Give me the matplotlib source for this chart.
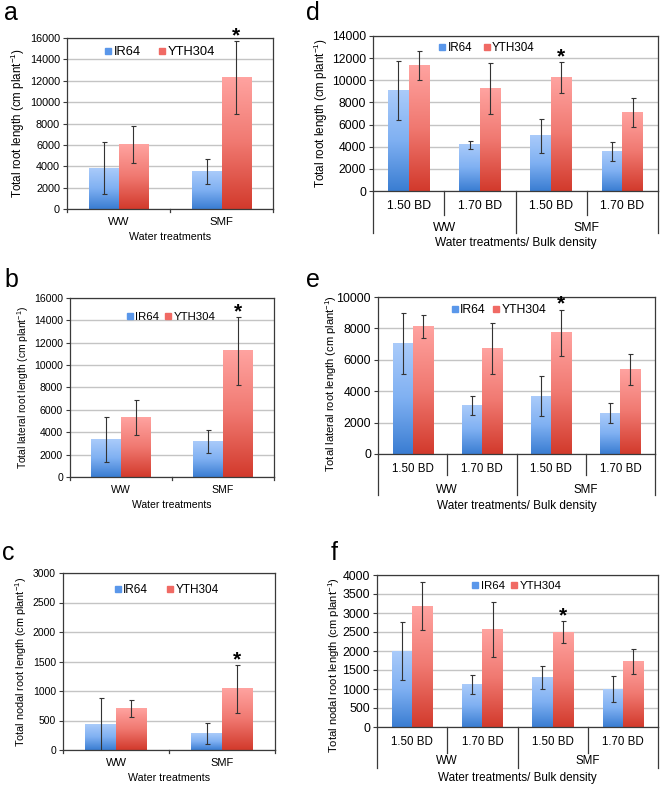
import matplotlib
matplotlib.use('Agg')
import matplotlib.pyplot as plt
import numpy as np
from matplotlib.colors import LinearSegmentedColormap
from matplotlib.lines import Line2D
from matplotlib.transforms import offset_copy

plt.rcParams['font.family'] = ['Liberation Sans', 'DejaVu Sans']
plt.rcParams['mathtext.default'] = 'regular'

# Data (cm plant^-1)
water_cats = ['WW', 'SMF']
bd_cats = ['1.50 BD', '1.70 BD', '1.50 BD', '1.70 BD']
water_groups = ['WW', 'SMF']

a_ir64 = [3800, 3500]
a_ir64_err = [2430, 1180]
a_yth = [6050, 12300]
a_yth_err = [1730, 3400]

b_ir64 = [3320, 3170]
b_ir64_err = [2000, 1040]
b_yth = [5280, 11280]
b_yth_err = [1560, 3030]

c_ir64 = [430, 280]
c_ir64_err = [455, 183]
c_yth = [705, 1035]
c_yth_err = [145, 406]

d_ir64 = [9060, 4160, 4970, 3580]
d_ir64_err = [2640, 400, 1530, 850]
d_yth = [11320, 9250, 10240, 7080]
d_yth_err = [1320, 2300, 1420, 1330]

e_ir64 = [7050, 3070, 3690, 2610]
e_ir64_err = [1940, 610, 1280, 640]
e_yth = [8110, 6720, 7730, 5400]
e_yth_err = [720, 1600, 1460, 1000]

f_ir64 = [2000, 1110, 1300, 1000]
f_ir64_err = [760, 250, 300, 335]
f_yth = [3180, 2560, 2500, 1725]
f_yth_err = [630, 720, 280, 325]

W, H = 660, 789
fig = plt.figure(figsize=(W / 100, H / 100), dpi=100)

blue_cmap = LinearSegmentedColormap.from_list('b', ['#3a7dd2', '#7fb0f2', '#aacbfa'])
red_cmap = LinearSegmentedColormap.from_list('r', ['#d23a2c', '#f07870', '#ffa3a0'])
grad = np.linspace(0, 1, 128).reshape(-1, 1)
BW = 0.29


def px_axes(l, r, t, b):
    return fig.add_axes([l / W, 1 - b / H, (r - l) / W, (b - t) / H])


def bars(ax, ir, ir_err, yt, yt_err, ymax, ystep, star, tsize):
    n = len(ir)
    x = np.arange(n)
    for i in range(n):
        ax.imshow(grad, extent=(x[i] - BW, x[i], 0, ir[i]), origin='lower',
                  aspect='auto', cmap=blue_cmap, zorder=2)
        ax.imshow(grad, extent=(x[i], x[i] + BW, 0, yt[i]), origin='lower',
                  aspect='auto', cmap=red_cmap, zorder=2)
    ax.errorbar(x - BW / 2, ir, yerr=ir_err, fmt='none', ecolor='#333333',
                elinewidth=0.8, capsize=1.8, capthick=0.8, zorder=3)
    ax.errorbar(x + BW / 2, yt, yerr=yt_err, fmt='none', ecolor='#333333',
                elinewidth=0.8, capsize=1.8, capthick=0.8, zorder=3)
    ax.annotate('*', (x[star] + BW / 2, yt[star] + yt_err[star]), xytext=(0, 0),
                textcoords='offset points', ha='center', va='baseline',
                fontsize=15, fontweight='bold', annotation_clip=False)
    ax.set_xlim(-0.5, n - 0.5)
    ax.set_ylim(0, ymax)
    ax.set_yticks(np.arange(0, ymax + 1, ystep))
    ax.yaxis.grid(True, color='#c4c4c4', lw=1)
    ax.set_axisbelow(True)
    for s in ax.spines.values():
        s.set_color('#3a3a3a')
        s.set_linewidth(0.9)
    ax.tick_params(axis='y', length=3, width=0.8, color='#3a3a3a', labelsize=tsize, pad=2)
    ax.set_xticks([])


def legend(ax, x, y, spacing, size):
    h = [Line2D([], [], marker='s', ls='', color='#5a97ea', markersize=3.8),
         Line2D([], [], marker='s', ls='', color='#f06a64', markersize=3.8)]
    ax.legend(h, ['IR64', 'YTH304'], loc='center', bbox_to_anchor=(x, y), ncol=2,
              frameon=False, fontsize=size, handlelength=0.5, handletextpad=0.2,
              columnspacing=spacing, borderpad=0)


def below(ax, x, dy_px, s, size):
    tr = offset_copy(ax.get_xaxis_transform(), fig=fig, y=-dy_px * 0.72, units='points')
    ax.text(x, 0, s, transform=tr, ha='center', va='center', fontsize=size)


def simple_x(ax, hpx, csize, lsize):
    for i, s in enumerate(water_cats):
        below(ax, i, 13, s, csize)
    below(ax, 0.5, 28, 'Water treatments', lsize)
    for xb in [-0.5, 0.5, 1.5]:
        ax.plot([xb, xb], [0, -3 / hpx], color='#3a3a3a', lw=0.9,
                transform=ax.get_xaxis_transform(), clip_on=False)


def multi_x(ax, hpx, inner, outer, g_dy, lab_dy, csize, lsize):
    for i, s in enumerate(bd_cats):
        below(ax, i, 15, s, csize)
    for j, s in enumerate(water_groups):
        below(ax, 0.5 + 2 * j, g_dy, s, csize)
    below(ax, 1.5, lab_dy, 'Water treatments/ Bulk density', lsize)
    for xb in [-0.5, 0.5, 1.5, 2.5, 3.5]:
        d = inner if xb in (0.5, 2.5) else outer
        ax.plot([xb, xb], [0, -d / hpx], color='#3a3a3a', lw=0.9,
                transform=ax.get_xaxis_transform(), clip_on=False)


ylab_total = 'Total root length (cm plant$^{-1}$)'
ylab_lat = 'Total lateral root length (cm plant$^{-1}$)'
ylab_nod = 'Total nodal root length (cm plant$^{-1}$)'

# panel a
ax = px_axes(67, 273, 38, 209)
bars(ax, a_ir64, a_ir64_err, a_yth, a_yth_err, 16000, 2000, 1, 7.8)
simple_x(ax, 171, 8.2, 7.7)
legend(ax, 0.45, 0.918, 1.4, 9.3)
ax.set_ylabel(ylab_total, fontsize=8.4)
ax.yaxis.set_label_coords(-0.194, 0.5)

# panel b
ax = px_axes(70, 274, 298, 477)
bars(ax, b_ir64, b_ir64_err, b_yth, b_yth_err, 16000, 2000, 1, 7.6)
simple_x(ax, 179, 7.6, 7.5)
legend(ax, 0.495, 0.894, 0.6, 8.2)
ax.set_ylabel(ylab_lat, fontsize=7.4)
ax.yaxis.set_label_coords(-0.19, 0.5)

# panel c
ax = px_axes(63, 275, 573, 750)
bars(ax, c_ir64, c_ir64_err, c_yth, c_yth_err, 3000, 500, 1, 7.5)
simple_x(ax, 177, 8.0, 7.7)
legend(ax, 0.49, 0.904, 1.6, 8.5)
ax.set_ylabel(ylab_nod, fontsize=7.8)
ax.yaxis.set_label_coords(-0.16, 0.5)

# panel d
ax = px_axes(373, 658, 36, 191)
bars(ax, d_ir64, d_ir64_err, d_yth, d_yth_err, 14000, 2000, 2, 8.8)
multi_x(ax, 155, 24, 42, 37, 52, 8.8, 8.6)
legend(ax, 0.40, 0.92, 1.0, 8.4)
ax.set_ylabel(ylab_total, fontsize=8.4)
ax.yaxis.set_label_coords(-0.151, 0.5)

# panel e
ax = px_axes(378, 655, 297, 454)
bars(ax, e_ir64, e_ir64_err, e_yth, e_yth_err, 10000, 2000, 2, 8.9)
multi_x(ax, 157, 21, 41, 36, 52, 8.3, 8.5)
legend(ax, 0.437, 0.917, 0.6, 8.8)
ax.set_ylabel(ylab_lat, fontsize=8.0)
ax.yaxis.set_label_coords(-0.141, 0.45)

# panel f
ax = px_axes(377, 658, 575, 727)
bars(ax, f_ir64, f_ir64_err, f_yth, f_yth_err, 4000, 500, 2, 8.9)
multi_x(ax, 152, 26, 41, 34, 51, 8.3, 8.4)
legend(ax, 0.498, 0.928, 0.6, 8.2)
ax.set_ylabel(ylab_nod, fontsize=8.1)
ax.yaxis.set_label_coords(-0.125, 0.41)

# panel letters
for s, x, y in [('a', 4, 20), ('b', 4, 287), ('c', 2, 560),
                ('d', 306, 20), ('e', 306, 287), ('f', 331, 560)]:
    fig.text(x / W, 1 - y / H, s, fontsize=18, ha='left', va='baseline')

fig.savefig('out.png', dpi=100)
